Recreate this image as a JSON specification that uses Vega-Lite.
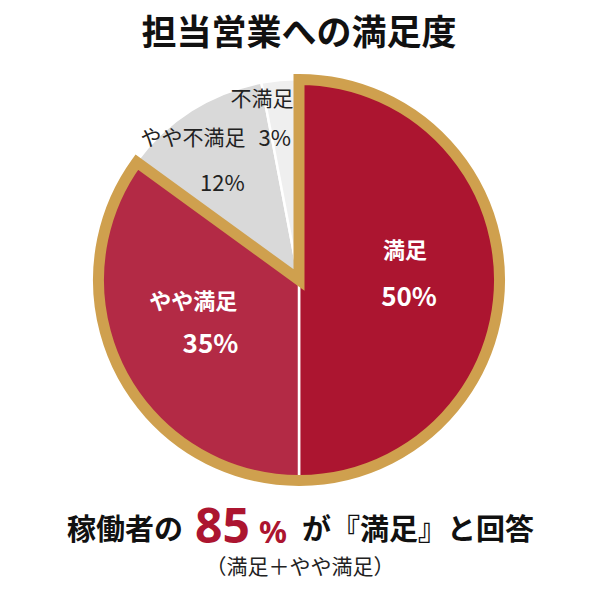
{
  "$schema": "https://vega.github.io/schema/vega-lite/v6.json",
  "width": 598,
  "height": 440,
  "autosize": {"type": "none"},
  "padding": {"left": 0, "top": 60, "right": 2, "bottom": 100},
  "background": "white",
  "config": {"view": {"stroke": null}, "font": "Noto Sans CJK JP"},
  "title": {"text": "担当営業への満足度", "fontSize": 35, "fontWeight": "bold", "font": "Noto Sans CJK JP", "color": "#111111", "anchor": "middle", "offset": 6},
  "data": {"values": [
    {"label": "満足", "share": 0.50},
    {"label": "やや満足", "share": 0.35},
    {"label": "やや不満足", "share": 0.12},
    {"label": "不満足", "share": 0.03}
  ]},
  "layer": [
    {
      "mark": {"type": "arc", "outerRadius": 201, "stroke": "white", "strokeWidth": 2.5},
      "encoding": {
        "theta": {"field": "share", "type": "quantitative", "stack": true, "scale": {"domain": [0, 1]}},
        "order": {"field": "share", "sort": "descending"},
        "color": {"field": "label", "type": "nominal", "scale": {"domain": ["満足", "やや満足", "やや不満足", "不満足"], "range": ["#AC1530", "#B32A45", "#D9D9D9", "#EFEFEF"]}, "legend": null}
      }
    },
    {
      "transform": [
        {"filter": {"field": "label", "oneOf": ["満足", "やや満足"]}},
        {"aggregate": [{"op": "sum", "field": "share", "as": "satisfied"}]}
      ],
      "mark": {"type": "arc", "filled": false, "outerRadius": 200.5, "stroke": "#CFA04E", "strokeWidth": 11, "strokeJoin": "miter"},
      "encoding": {
        "theta": {"field": "satisfied", "type": "quantitative", "stack": true, "scale": {"domain": [0, 1]}}
      }
    },
    {
      "mark": {"type": "text", "radius": 112, "dx": -6, "dy": -29, "fontSize": 22, "fontWeight": "bold", "color": "white"},
      "encoding": {
        "theta": {"field": "share", "type": "quantitative", "stack": true},
        "order": {"field": "share", "sort": "descending"},
        "text": {"condition": {"test": "datum.label === '満足' || datum.label === 'やや満足'", "field": "label", "type": "nominal"}, "value": ""}
      }
    },
    {
      "mark": {"type": "text", "radius": 105, "dx": 5, "dy": 17.5, "fontSize": 26, "fontWeight": "bold", "color": "white"},
      "encoding": {
        "theta": {"field": "share", "type": "quantitative", "stack": true},
        "order": {"field": "share", "sort": "descending"},
        "text": {"condition": {"test": "datum.label === '満足' || datum.label === 'やや満足'", "field": "share", "type": "quantitative", "format": ".0%"}, "value": ""}
      }
    },
    {
      "mark": {"type": "text", "radius": 167, "dx": -16.5, "fontSize": 21, "color": "#222222"},
      "encoding": {
        "theta": {"field": "share", "type": "quantitative", "stack": true},
        "order": {"field": "share", "sort": "descending"},
        "text": {"condition": {"test": "datum.label === 'やや不満足'", "field": "label", "type": "nominal"}, "value": ""}
      }
    },
    {
      "mark": {"type": "text", "radius": 114, "dx": -15.5, "fontSize": 22, "color": "#222222"},
      "encoding": {
        "theta": {"field": "share", "type": "quantitative", "stack": true},
        "order": {"field": "share", "sort": "descending"},
        "text": {"condition": {"test": "datum.label === 'やや不満足'", "field": "share", "type": "quantitative", "format": ".0%"}, "value": ""}
      }
    },
    {
      "mark": {"type": "text", "radius": 181, "dx": -20, "fontSize": 21, "color": "#222222"},
      "encoding": {
        "theta": {"field": "share", "type": "quantitative", "stack": true},
        "order": {"field": "share", "sort": "descending"},
        "text": {"condition": {"test": "datum.label === '不満足'", "field": "label", "type": "nominal"}, "value": ""}
      }
    },
    {
      "mark": {"type": "text", "radius": 141.6, "dx": -11, "fontSize": 22, "color": "#222222"},
      "encoding": {
        "theta": {"field": "share", "type": "quantitative", "stack": true},
        "order": {"field": "share", "sort": "descending"},
        "text": {"condition": {"test": "datum.label === '不満足'", "field": "share", "type": "quantitative", "format": ".0%"}, "value": ""}
      }
    },
    {
      "data": {"values": [{"note": "稼働者の"}]},
      "mark": {"type": "text", "align": "left", "baseline": "alphabetic", "fontSize": 29, "fontWeight": "bold", "color": "#111111"},
      "encoding": {"text": {"field": "note"}, "x": {"value": 67}, "y": {"value": 480}}
    },
    {
      "data": {"values": [{"note": "85"}]},
      "mark": {"type": "text", "align": "left", "baseline": "alphabetic", "font": "Noto Sans", "fontSize": 48, "fontWeight": "bold", "color": "#AC1530"},
      "encoding": {"text": {"field": "note"}, "x": {"value": 195}, "y": {"value": 483}}
    },
    {
      "data": {"values": [{"note": "%"}]},
      "mark": {"type": "text", "align": "left", "baseline": "alphabetic", "font": "Noto Sans", "fontSize": 31, "fontWeight": "bold", "color": "#AC1530"},
      "encoding": {"text": {"field": "note"}, "x": {"value": 259}, "y": {"value": 483}}
    },
    {
      "data": {"values": [{"note": "が『満足』と回答"}]},
      "mark": {"type": "text", "align": "left", "baseline": "alphabetic", "fontSize": 29, "fontWeight": "bold", "color": "#111111"},
      "encoding": {"text": {"field": "note"}, "x": {"value": 302}, "y": {"value": 480}}
    },
    {
      "data": {"values": [{"note": "（満足＋やや満足）"}]},
      "mark": {"type": "text", "align": "center", "baseline": "alphabetic", "fontSize": 21, "color": "#222222"},
      "encoding": {"text": {"field": "note"}, "x": {"value": 300}, "y": {"value": 514}}
    }
  ]
}
